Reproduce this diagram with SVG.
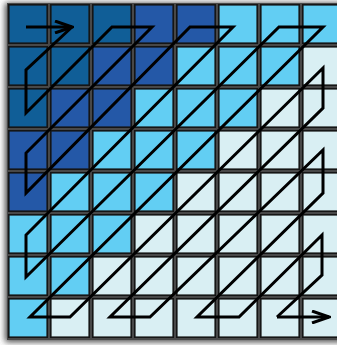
<svg xmlns="http://www.w3.org/2000/svg" width="337" height="345" viewBox="0 0 337 345">
<style>
.c{stroke:#151515;stroke-width:1.6}
.d{fill:#105e97}
.m{fill:#2458a7}
.l{fill:#62cef3}
.v{fill:#d9eff3}
.p{fill:none;stroke:#000;stroke-width:3;stroke-linejoin:miter;stroke-linecap:butt}
</style>
<defs>
<filter id="sh" x="-10%" y="-10%" width="120%" height="120%"><feGaussianBlur stdDeviation="3"/></filter>
<marker id="ar" viewBox="0 0 20 14" refX="18" refY="7" markerWidth="20" markerHeight="14" markerUnits="userSpaceOnUse" orient="auto"><path d="M1,1 L18,7 L1,13" fill="none" stroke="#000" stroke-width="3"/></marker>
</defs>
<rect width="337" height="345" fill="#fff"/>
<rect x="5" y="3" width="345" height="339" fill="#4a4a4a" filter="url(#sh)"/>
<rect x="7" y="3" width="340" height="337" fill="#484848"/>
<g id="grid">
<g id="r0">
<rect class="c d" x="8.8" y="4.8" width="38.4" height="38.4"/><rect class="c d" x="50.8" y="4.8" width="38.4" height="38.4"/><rect class="c d" x="92.8" y="4.8" width="38.4" height="38.4"/><rect class="c m" x="134.8" y="4.8" width="38.4" height="38.4"/><rect class="c m" x="176.8" y="4.8" width="38.4" height="38.4"/><rect class="c l" x="218.8" y="4.8" width="38.4" height="38.4"/><rect class="c l" x="260.8" y="4.8" width="38.4" height="38.4"/><rect class="c l" x="302.8" y="4.8" width="38.4" height="38.4"/>
</g>
<g id="r1">
<rect class="c d" x="8.8" y="46.8" width="38.4" height="38.4"/><rect class="c d" x="50.8" y="46.8" width="38.4" height="38.4"/><rect class="c m" x="92.8" y="46.8" width="38.4" height="38.4"/><rect class="c m" x="134.8" y="46.8" width="38.4" height="38.4"/><rect class="c l" x="176.8" y="46.8" width="38.4" height="38.4"/><rect class="c l" x="218.8" y="46.8" width="38.4" height="38.4"/><rect class="c l" x="260.8" y="46.8" width="38.4" height="38.4"/><rect class="c v" x="302.8" y="46.8" width="38.4" height="38.4"/>
</g>
<g id="r2">
<rect class="c d" x="8.8" y="88.8" width="38.4" height="38.4"/><rect class="c m" x="50.8" y="88.8" width="38.4" height="38.4"/><rect class="c m" x="92.8" y="88.8" width="38.4" height="38.4"/><rect class="c l" x="134.8" y="88.8" width="38.4" height="38.4"/><rect class="c l" x="176.8" y="88.8" width="38.4" height="38.4"/><rect class="c l" x="218.8" y="88.8" width="38.4" height="38.4"/><rect class="c v" x="260.8" y="88.8" width="38.4" height="38.4"/><rect class="c v" x="302.8" y="88.8" width="38.4" height="38.4"/>
</g>
<g id="r3">
<rect class="c m" x="8.8" y="130.8" width="38.4" height="38.4"/><rect class="c m" x="50.8" y="130.8" width="38.4" height="38.4"/><rect class="c l" x="92.8" y="130.8" width="38.4" height="38.4"/><rect class="c l" x="134.8" y="130.8" width="38.4" height="38.4"/><rect class="c l" x="176.8" y="130.8" width="38.4" height="38.4"/><rect class="c v" x="218.8" y="130.8" width="38.4" height="38.4"/><rect class="c v" x="260.8" y="130.8" width="38.4" height="38.4"/><rect class="c v" x="302.8" y="130.8" width="38.4" height="38.4"/>
</g>
<g id="r4">
<rect class="c m" x="8.8" y="172.8" width="38.4" height="38.4"/><rect class="c l" x="50.8" y="172.8" width="38.4" height="38.4"/><rect class="c l" x="92.8" y="172.8" width="38.4" height="38.4"/><rect class="c l" x="134.8" y="172.8" width="38.4" height="38.4"/><rect class="c v" x="176.8" y="172.8" width="38.4" height="38.4"/><rect class="c v" x="218.8" y="172.8" width="38.4" height="38.4"/><rect class="c v" x="260.8" y="172.8" width="38.4" height="38.4"/><rect class="c v" x="302.8" y="172.8" width="38.4" height="38.4"/>
</g>
<g id="r5">
<rect class="c l" x="8.8" y="214.8" width="38.4" height="38.4"/><rect class="c l" x="50.8" y="214.8" width="38.4" height="38.4"/><rect class="c l" x="92.8" y="214.8" width="38.4" height="38.4"/><rect class="c v" x="134.8" y="214.8" width="38.4" height="38.4"/><rect class="c v" x="176.8" y="214.8" width="38.4" height="38.4"/><rect class="c v" x="218.8" y="214.8" width="38.4" height="38.4"/><rect class="c v" x="260.8" y="214.8" width="38.4" height="38.4"/><rect class="c v" x="302.8" y="214.8" width="38.4" height="38.4"/>
</g>
<g id="r6">
<rect class="c l" x="8.8" y="256.8" width="38.4" height="38.4"/><rect class="c l" x="50.8" y="256.8" width="38.4" height="38.4"/><rect class="c v" x="92.8" y="256.8" width="38.4" height="38.4"/><rect class="c v" x="134.8" y="256.8" width="38.4" height="38.4"/><rect class="c v" x="176.8" y="256.8" width="38.4" height="38.4"/><rect class="c v" x="218.8" y="256.8" width="38.4" height="38.4"/><rect class="c v" x="260.8" y="256.8" width="38.4" height="38.4"/><rect class="c v" x="302.8" y="256.8" width="38.4" height="38.4"/>
</g>
<g id="r7">
<rect class="c l" x="8.8" y="298.8" width="38.4" height="38.4"/><rect class="c v" x="50.8" y="298.8" width="38.4" height="38.4"/><rect class="c v" x="92.8" y="298.8" width="38.4" height="38.4"/><rect class="c v" x="134.8" y="298.8" width="38.4" height="38.4"/><rect class="c v" x="176.8" y="298.8" width="38.4" height="38.4"/><rect class="c v" x="218.8" y="298.8" width="38.4" height="38.4"/><rect class="c v" x="260.8" y="298.8" width="38.4" height="38.4"/><rect class="c v" x="302.8" y="298.8" width="38.4" height="38.4"/>
</g>
</g>
<g id="connectors">
<line class="p" x1="26" y1="27" x2="72" y2="27" marker-end="url(#ar)"/>
<polyline class="p" points="72,27 26,70 26,113 112,27 152,27 26,153 26,193 190,27 233,27 26,235 26,277 279,27 323,27 30,317 70,317 323,68 323,108 110,317 150,317 323,150 323,193 197,317 239,317 322,235 322,275 277,317"/>
<line class="p" x1="277" y1="317" x2="329" y2="317" marker-end="url(#ar)"/>
</g>
</svg>
